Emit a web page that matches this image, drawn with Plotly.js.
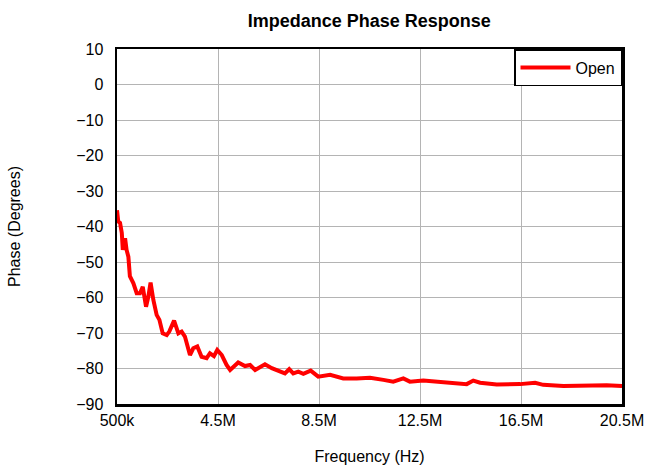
<!DOCTYPE html>
<html>
<head>
<meta charset="utf-8">
<script src="https://cdn.plot.ly/plotly-3.0.1.min.js"></script>
<style>html,body{margin:0;padding:0;background:#fff;}#chart{width:649px;height:465px;}</style>
</head>
<body>
<div id="chart"></div>
<script>
// Frequency in MHz
const freqMHz = [0.5,0.55,0.62,0.69,0.73,0.82,0.88,0.95,1.01,1.15,1.28,1.41,1.52,1.65,1.74,1.83,1.94,2.07,2.18,2.31,2.47,2.57,2.76,2.93,3.06,3.19,3.39,3.52,3.68,3.85,4.05,4.18,4.34,4.47,4.65,4.84,4.98,5.13,5.30,5.57,5.77,5.97,6.36,6.63,6.96,7.15,7.32,7.48,7.68,7.88,8.17,8.47,8.94,9.46,9.99,10.52,11.05,11.44,11.84,12.10,12.63,13.16,13.82,14.35,14.61,14.88,15.54,16.46,17.06,17.38,18.18,19.10,19.89,20.5];
const phaseDeg = [-35.4,-38.6,-39,-41.8,-46.6,-43.3,-46.6,-48.5,-54,-56,-58.8,-58.8,-57,-62.6,-59.8,-55.8,-60.7,-64.9,-66.3,-70.1,-70.6,-69.6,-66.5,-70.1,-69.6,-71,-76.2,-74.3,-73.8,-76.7,-77.1,-75.7,-76.5,-74.8,-76.2,-79,-80.4,-79.5,-78.3,-79.3,-79,-80.4,-78.8,-79.9,-80.9,-81.4,-80.2,-81.4,-80.9,-81.5,-80.6,-82.3,-81.8,-82.8,-82.8,-82.6,-83.2,-83.7,-82.8,-83.7,-83.4,-83.7,-84,-84.4,-83.4,-84,-84.5,-84.4,-84,-84.6,-84.9,-84.7,-84.7,-84.9];
const tickVals = [0.5,4.5,8.5,12.5,16.5,20.5];
const tickText = ['500k','4.5M','8.5M','12.5M','16.5M','20.5M'];
const seriesName = 'Open';

const font = {family:'"Liberation Sans", Arial, sans-serif', color:'#000'};
Plotly.newPlot('chart', [{
  x: freqMHz, y: phaseDeg, name: seriesName, type:'scatter', mode:'lines',
  line:{color:'#ff0000', width:4}
}], {
  width:649, height:465,
  margin:{l:117, r:27, t:49, b:61},
  paper_bgcolor:'#fff', plot_bgcolor:'#fff',
  font: Object.assign({size:16}, font),
  title:{text:'<b>Impedance Phase Response</b>', font:Object.assign({size:18}, font), x:0.569, xanchor:'center', y:0.956, yanchor:'middle'},
  xaxis:{range:[0.5,20.5], tickvals:tickVals, ticktext:tickText, showgrid:true, gridcolor:'#b4b4b4', gridwidth:1,
    showline:true, linecolor:'#000', linewidth:2.5, mirror:true, zeroline:false, ticks:'', ticklen:0,
    tickfont:Object.assign({size:16}, font),
    title:{text:'Frequency (Hz)', font:Object.assign({size:16}, font), standoff:24}},
  yaxis:{range:[-90,10], dtick:10, tick0:0, showgrid:true, gridcolor:'#b4b4b4', gridwidth:1,
    showline:true, linecolor:'#000', linewidth:2.5, mirror:true, zeroline:false, ticks:'',
    ticklabelstandoff:8,
    tickfont:Object.assign({size:16}, font),
    title:{text:'Phase (Degrees)', font:Object.assign({size:16}, font), standoff:52}},
  showlegend:true,
  legend:{x:1, xanchor:'right', y:1, yanchor:'top', bgcolor:'#fff', bordercolor:'#000', borderwidth:1.5,
    itemwidth:50, font:Object.assign({size:16}, font)}
}, {displayModeBar:false, staticPlot:true});
</script>
</body>
</html>
